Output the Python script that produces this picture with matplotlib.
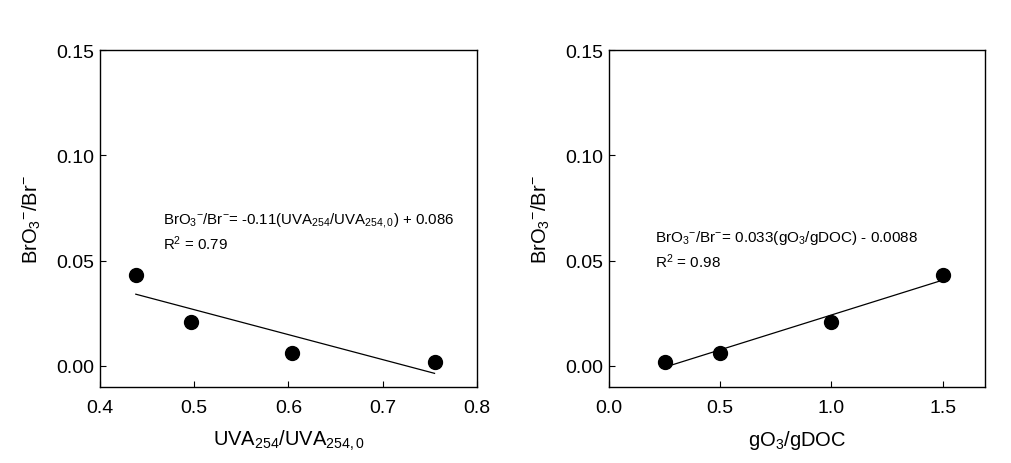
import matplotlib
matplotlib.use('Agg')
import matplotlib.pyplot as plt
import numpy as np

plt.rcParams['font.family'] = ['Liberation Sans', 'DejaVu Sans']
plt.rcParams['mathtext.fontset'] = 'custom'
plt.rcParams['mathtext.rm'] = 'Liberation Sans'
plt.rcParams['mathtext.it'] = 'Liberation Sans:italic'
plt.rcParams['mathtext.bf'] = 'Liberation Sans:bold'
plt.rcParams['mathtext.default'] = 'regular'

# data
uva_ratio = [0.438, 0.497, 0.604, 0.755]
bro3_uva = [0.043, 0.021, 0.006, 0.002]

o3_doc = [0.25, 0.5, 1.0, 1.5]
bro3_o3 = [0.002, 0.006, 0.021, 0.043]

left_ticks = [0.4, 0.5, 0.6, 0.7, 0.8]
right_ticks = [0.0, 0.5, 1.0, 1.5]
y_ticks = [0.00, 0.05, 0.10, 0.15]

ylab = r'BrO$_3$$^{-}$/Br$^{-}$'
left_eq = r'BrO$_3$$^{-}$/Br$^{-}$= -0.11(UVA$_{254}$/UVA$_{254,0}$) + 0.086' + '\n' + r'R$^2$ = 0.79'
right_eq = r'BrO$_3$$^{-}$/Br$^{-}$= 0.033(gO$_3$/gDOC) - 0.0088' + '\n' + r'R$^2$ = 0.98'

fig = plt.figure(figsize=(10.12, 4.64), dpi=100)
ax1 = fig.add_axes([0.0988, 0.1638, 0.3725, 0.7262])
ax2 = fig.add_axes([0.6018, 0.1638, 0.3715, 0.7262])


def panel(ax, x, y, xlim, xticks, xlabel, eq, eq_pos, eq_size):
    ax.plot(x, y, 'o', color='black', markersize=10)
    k, b = np.polyfit(x, y, 1)
    xs = np.array([min(x), max(x)])
    ax.plot(xs, k * xs + b, color='black', linewidth=0.9)
    ax.set_xlim(*xlim)
    ax.set_ylim(-0.01, 0.15)
    ax.set_xticks(xticks)
    ax.set_xticklabels(['{:.1f}'.format(t) for t in xticks])
    ax.set_yticks(y_ticks)
    ax.set_yticklabels(['{:.2f}'.format(t) for t in y_ticks])
    ax.tick_params(direction='in', length=4, labelsize=14)
    ax.tick_params(axis='x', pad=9)
    ax.tick_params(axis='y', pad=4)
    ax.set_xlabel(xlabel, fontsize=14.5, labelpad=8)
    ax.set_ylabel(ylab, fontsize=14.5, labelpad=10)
    ax.text(eq_pos[0], eq_pos[1], eq, fontsize=eq_size, va='center', linespacing=1.3)
    for s in ax.spines.values():
        s.set_linewidth(1.0)


panel(ax1, uva_ratio, bro3_uva, (0.4, 0.8), left_ticks,
      r'UVA$_{254}$/UVA$_{254,0}$', left_eq, (0.467, 0.064), 10.8)
panel(ax2, o3_doc, bro3_o3, (0.0, 1.69), right_ticks,
      r'gO$_3$/gDOC', right_eq, (0.207, 0.0555), 11)

fig.savefig('out.png', dpi=100)
